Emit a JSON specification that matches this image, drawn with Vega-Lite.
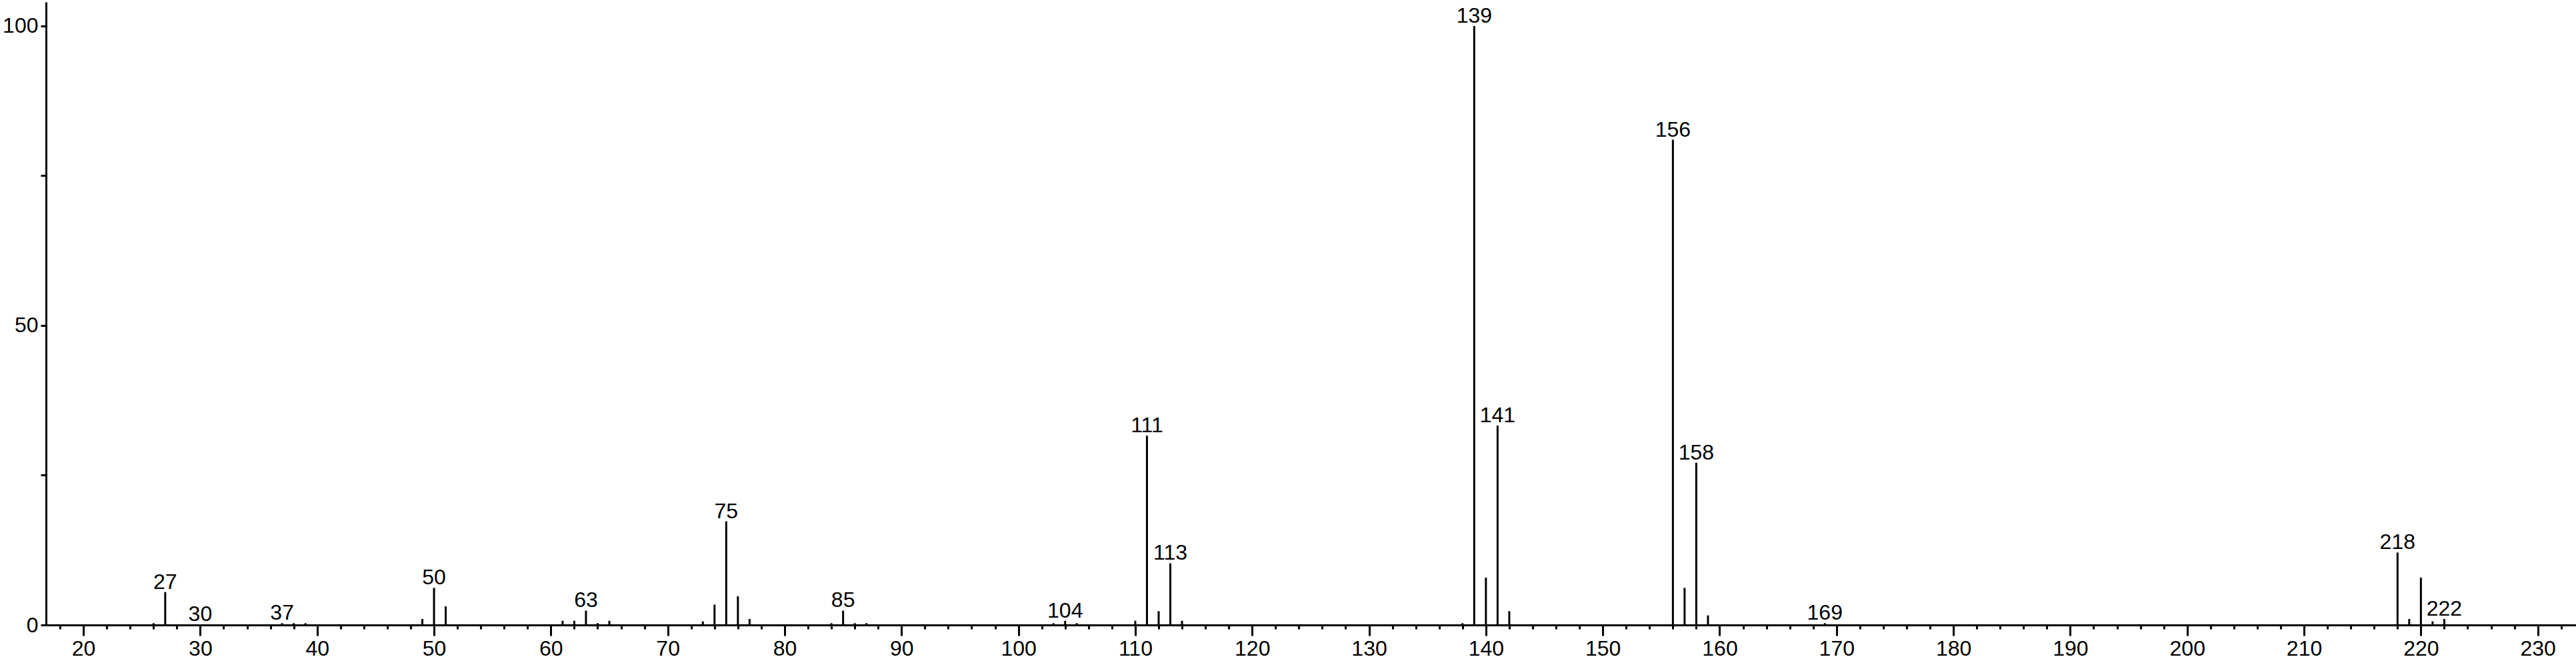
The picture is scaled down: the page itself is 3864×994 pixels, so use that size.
{
  "$schema": "https://vega.github.io/schema/vega-lite/v6.json",
  "autosize": {"type": "none"},
  "padding": {"left": 69, "top": 3, "right": 0, "bottom": 57},
  "width": 3795,
  "height": 934,
  "background": "white",
  "config": {
    "view": {"stroke": null},
    "font": "Liberation Sans",
    "axis": {"grid": false, "domainColor": "black", "tickColor": "black", "labelColor": "black", "labelFont": "Liberation Sans", "labelFontSize": 32, "domainWidth": 3, "tickWidth": 3, "title": null}
  },
  "data": {
    "values": [
      {"mz": 26, "intensity": 0.3, "label": ""},
      {"mz": 27, "intensity": 5.5, "label": "27"},
      {"mz": 30, "intensity": 0.1, "label": "30"},
      {"mz": 37, "intensity": 0.3, "label": "37"},
      {"mz": 38, "intensity": 0.3, "label": ""},
      {"mz": 39, "intensity": 0.3, "label": ""},
      {"mz": 49, "intensity": 1.0, "label": ""},
      {"mz": 50, "intensity": 6.2, "label": "50"},
      {"mz": 51, "intensity": 3.1, "label": ""},
      {"mz": 61, "intensity": 0.7, "label": ""},
      {"mz": 62, "intensity": 0.7, "label": ""},
      {"mz": 63, "intensity": 2.4, "label": "63"},
      {"mz": 64, "intensity": 0.3, "label": ""},
      {"mz": 65, "intensity": 0.7, "label": ""},
      {"mz": 73, "intensity": 0.6, "label": ""},
      {"mz": 74, "intensity": 3.4, "label": ""},
      {"mz": 75, "intensity": 17.3, "label": "75"},
      {"mz": 76, "intensity": 4.8, "label": ""},
      {"mz": 77, "intensity": 1.0, "label": ""},
      {"mz": 84, "intensity": 0.3, "label": ""},
      {"mz": 85, "intensity": 2.4, "label": "85"},
      {"mz": 86, "intensity": 0.3, "label": ""},
      {"mz": 87, "intensity": 0.3, "label": ""},
      {"mz": 103, "intensity": 0.3, "label": ""},
      {"mz": 104, "intensity": 0.7, "label": "104"},
      {"mz": 105, "intensity": 0.3, "label": ""},
      {"mz": 110, "intensity": 0.7, "label": ""},
      {"mz": 111, "intensity": 31.6, "label": "111"},
      {"mz": 112, "intensity": 2.3, "label": ""},
      {"mz": 113, "intensity": 10.3, "label": "113"},
      {"mz": 114, "intensity": 0.7, "label": ""},
      {"mz": 138, "intensity": 0.3, "label": ""},
      {"mz": 139, "intensity": 100, "label": "139"},
      {"mz": 140, "intensity": 7.9, "label": ""},
      {"mz": 141, "intensity": 33.3, "label": "141"},
      {"mz": 142, "intensity": 2.3, "label": ""},
      {"mz": 156, "intensity": 81.0, "label": "156"},
      {"mz": 157, "intensity": 6.2, "label": ""},
      {"mz": 158, "intensity": 27.1, "label": "158"},
      {"mz": 159, "intensity": 1.6, "label": ""},
      {"mz": 169, "intensity": 0.3, "label": "169"},
      {"mz": 218, "intensity": 12.1, "label": "218"},
      {"mz": 219, "intensity": 1.0, "label": ""},
      {"mz": 220, "intensity": 7.9, "label": ""},
      {"mz": 221, "intensity": 0.6, "label": ""},
      {"mz": 222, "intensity": 1.0, "label": "222"}
    ]
  },
  "layer": [
    {
      "mark": {"type": "rule", "color": "black", "strokeWidth": 3},
      "encoding": {
        "x": {"field": "mz", "type": "quantitative", "scale": {"domain": [16.8, 233.27], "nice": false, "zero": false},
          "axis": {"orient": "bottom", "values": [18,20,22,24,26,28,30,32,34,36,38,40,42,44,46,48,50,52,54,56,58,60,62,64,66,68,70,72,74,76,78,80,82,84,86,88,90,92,94,96,98,100,102,104,106,108,110,112,114,116,118,120,122,124,126,128,130,132,134,136,138,140,142,144,146,148,150,152,154,156,158,160,162,164,166,168,170,172,174,176,178,180,182,184,186,188,190,192,194,196,198,200,202,204,206,208,210,212,214,216,218,220,222,224,226,228,230,232], "labels": false, "tickSize": 6, "domain": true}},
        "y": {"field": "intensity", "type": "quantitative", "scale": {"domain": [0, 104], "nice": false},
          "axis": {"values": [0, 25, 50, 75, 100], "labelExpr": "datum.value % 50 === 0 ? datum.label : ''", "tickSize": 8, "labelPadding": 4, "labelBaseline": "middle"}},
        "y2": {"datum": 0}
      }
    },
    {
      "transform": [{"filter": "datum.label !== ''"}],
      "mark": {"type": "text", "font": "Liberation Sans", "fontSize": 32, "color": "black", "align": "center", "baseline": "alphabetic", "dy": -5},
      "encoding": {
        "x": {"field": "mz", "type": "quantitative",
          "axis": {"orient": "bottom", "values": [20,30,40,50,60,70,80,90,100,110,120,130,140,150,160,170,180,190,200,210,220,230], "tickSize": 16, "domain": false, "labelPadding": 4, "labelFlush": false, "labelOverlap": false}},
        "y": {"field": "intensity", "type": "quantitative"},
        "text": {"field": "label"}
      }
    }
  ],
  "resolve": {"axis": {"x": "independent"}}
}
